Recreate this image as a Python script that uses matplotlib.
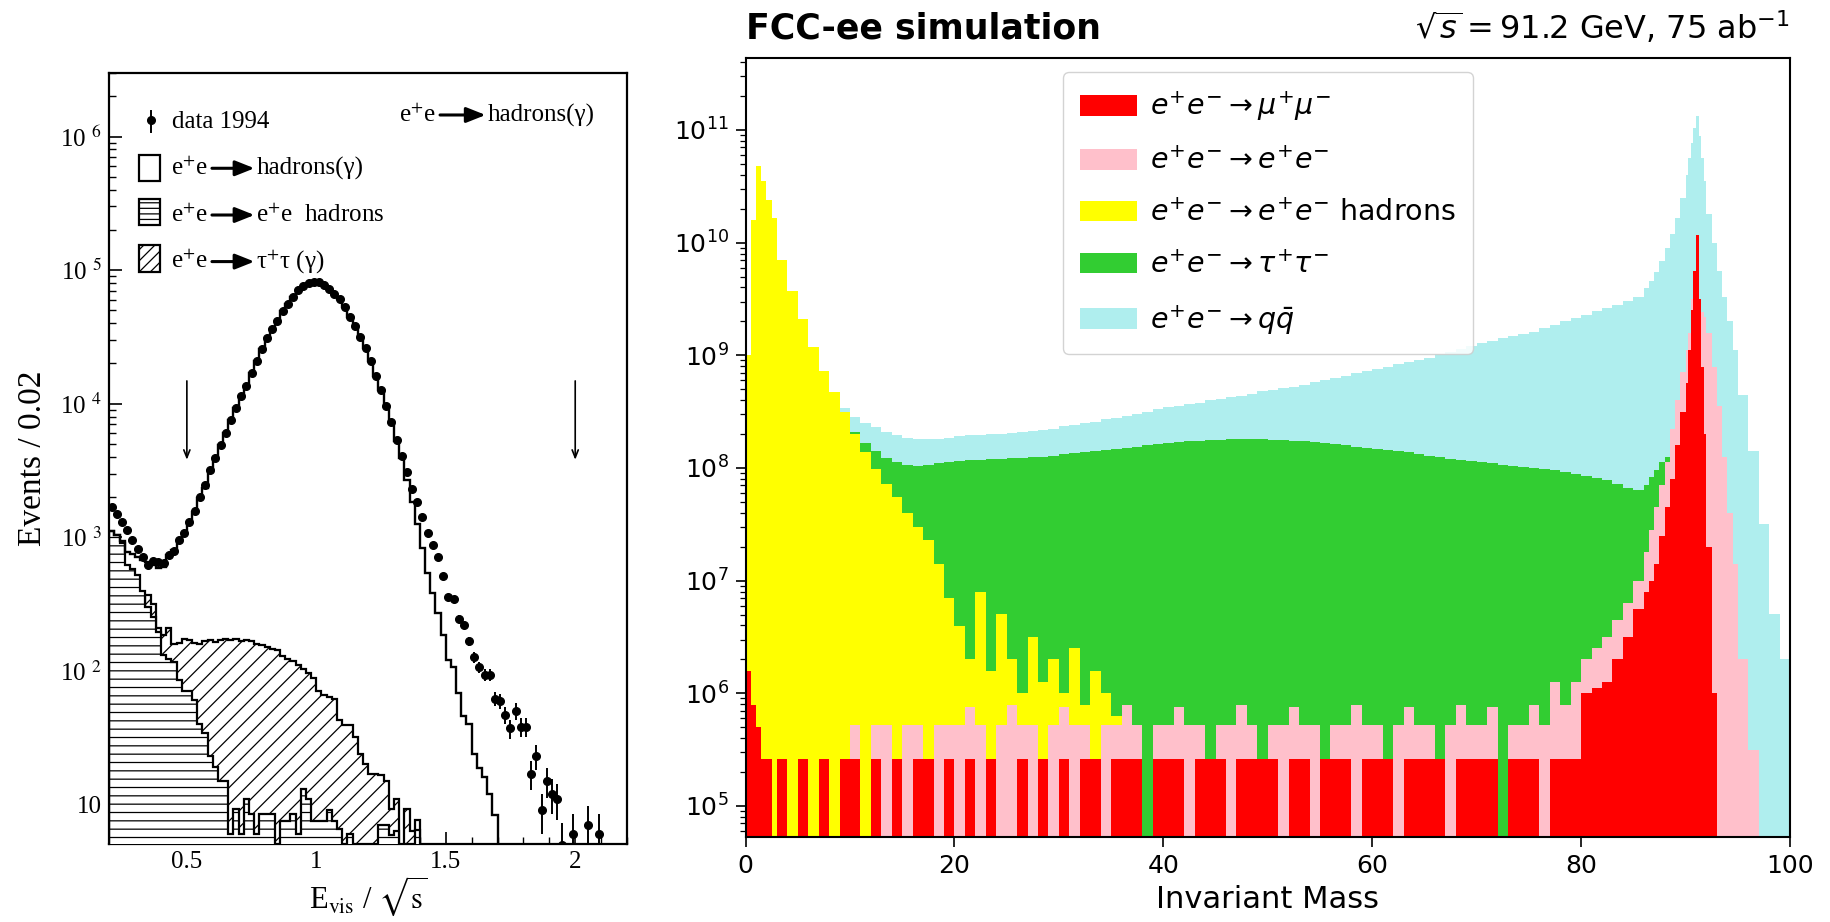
import numpy as np
import matplotlib
matplotlib.use("Agg")
import matplotlib.pyplot as plt
from matplotlib.patches import Rectangle, Patch
from matplotlib.ticker import MultipleLocator, LogLocator, NullFormatter

plt.rcParams["hatch.linewidth"] = 0.9
plt.rcParams["font.family"] = ["DejaVu Sans"]
SERIF = "Liberation Serif"

# ===================== LEFT PANEL DATA (bins of 0.02 in E_vis/sqrt(s)) =====================
MC_EDGES = np.round(np.linspace(0.20, 1.70, 76), 2)
BKG_EDGES = np.round(np.linspace(0.20, 1.40, 61), 2)
DATA_X = np.round(np.linspace(0.21, 2.09, 95), 2)

DATA_1994 = [
    1690, 1500, 1300, 1130, 950, 822, 713, 617, 661, 653,
    646, 733, 794, 955, 1070, 1300, 1585, 1995, 2455, 3160,
    3890, 4900, 6030, 7590, 9330, 11500, 13500, 17000, 20900, 25700,
    30900, 36300, 41700, 49000, 56200, 63100, 70800, 75900, 79400, 81300,
    81300, 77600, 72400, 66100, 60300, 52500, 44700, 38000, 31600, 26300,
    20900, 16200, 12600, 9550, 7240, 5370, 4070, 3090, 2290, 1820,
    1410, 1070, 871, 708, 513, 359, 343, 245, 219, 166,
    126, 107, 93, 93, 62, 59, 47, 37, 50, 38,
    38, 17, 23, 9, 15, 12, 11, 5, 0, 6,
    0, 0, 7, 0, 6]

MC_HADRONS = [
    1120, 1035, 930, 776, 746, 713, 681, 653, 617, 593,
    603, 733, 809, 922, 1072, 1303, 1549, 1950, 2344, 3100,
    3890, 4900, 6030, 7590, 9330, 11500, 13500, 17000, 20900, 25700,
    30900, 36300, 41700, 49000, 56200, 63100, 70800, 75900, 79400, 81300,
    81300, 77600, 72400, 66100, 60300, 52500, 44700, 38000, 31600, 26300,
    20900, 16200, 12600, 9550, 7240, 5250, 3890, 2690, 1820, 1260,
    830, 537, 380, 271, 186, 120, 107, 68, 46, 40,
    24, 18.6, 16, 12, 8.3]

MC_TAU = [
    0, 0, 0, 0, 0, 0, 0, 367, 316, 210,
    186, 210, 158, 162, 174, 170, 162, 160, 168, 170,
    165, 170, 172, 170, 172, 168, 170, 166, 160, 155,
    152, 146, 143, 130, 122, 118, 110, 104, 96, 88,
    70, 66, 64, 62, 43, 39, 39, 32, 24, 20,
    17, 17, 16.5, 15, 9.3, 11, 0, 9.3, 6.3, 7.7]

MC_TWOPHOTON = [
    1120, 1035, 900, 617, 582, 519, 398, 300, 251, 195,
    131, 123, 116, 85, 71, 71, 60, 40, 34, 23,
    19, 15, 15, 6, 9.3, 6, 11, 8.5, 6, 8.5,
    8.5, 8.5, 0, 7.5, 7.5, 8.5, 6, 13, 11, 7.5,
    7.5, 7.5, 9, 7.5, 6.5, 0, 6, 0, 0, 0,
    0, 0, 7, 7, 5.9, 6.3, 0, 0, 0, 6.4]

# ===================== RIGHT PANEL DATA (log10 of entries per bin) =====================
R_EDGES = np.concatenate([np.arange(0, 3, 0.5), np.arange(3, 86, 1.0), np.arange(86, 90, 0.5),
                          np.arange(90, 92, 0.25), np.arange(92, 95, 0.5), np.arange(95, 101, 1.0)])
N = None
R = 5.42

QQ_LOG = [
    8.5, 9.5, 9.5, 9.5, 9.5, 9.4,
    9.3, 9.2, 9.0, 8.9, 8.75, 8.6, 8.53, 8.45, 8.40, 8.36,
    8.32, 8.29, 8.27, 8.26, 8.26, 8.26, 8.27, 8.28, 8.29, 8.29,
    8.30, 8.30, 8.31, 8.32, 8.33, 8.34, 8.35, 8.37, 8.38, 8.40,
    8.41, 8.43, 8.44, 8.46, 8.48, 8.50, 8.52, 8.54, 8.55, 8.57,
    8.58, 8.60, 8.61, 8.63, 8.64, 8.66, 8.68, 8.69, 8.71, 8.72,
    8.74, 8.76, 8.78, 8.80, 8.82, 8.84, 8.86, 8.88, 8.90, 8.92,
    8.94, 8.96, 8.98, 9.01, 9.03, 9.06, 9.08, 9.11, 9.13, 9.15,
    9.17, 9.19, 9.21, 9.24, 9.27, 9.30, 9.33, 9.36, 9.39, 9.42,
    9.45, 9.48, 9.52,
    9.60, 9.66, 9.74, 9.84, 9.95, 10.08, 10.22, 10.40,
    10.60, 10.75, 10.88, 11.02, 11.12, 10.95, 10.75, 10.55,
    10.25, 10.0, 9.75, 9.52, 9.30, 9.05,
    8.65, 8.15, 7.5, 6.7, 6.3]

TAUTAU_LOG = [
    8.0, 8.9, 9.0, 9.0, 9.0, 9.0,
    9.0, 9.0, 8.95, 8.9, 8.75, 8.6, 8.45, 8.32, 8.22, 8.15,
    8.09, 8.05, 8.03, 8.02, 8.03, 8.04, 8.05, 8.06, 8.07, 8.07,
    8.08, 8.08, 8.09, 8.09, 8.10, 8.10, 8.11, 8.12, 8.13, 8.14,
    8.15, 8.16, 8.17, 8.18, 8.19, 8.20, 8.21, 8.22, 8.23, 8.24,
    8.24, 8.25, 8.25, 8.26, 8.26, 8.26, 8.26, 8.25, 8.25, 8.24,
    8.24, 8.23, 8.22, 8.21, 8.20, 8.19, 8.18, 8.17, 8.16, 8.15,
    8.14, 8.12, 8.11, 8.10, 8.08, 8.07, 8.06, 8.05, 8.04, 8.03,
    8.02, 8.01, 8.00, 7.99, 7.98, 7.96, 7.95, 7.93, 7.91, 7.89,
    7.86, 7.82, 7.80,
    7.85, 7.92, 7.98, 8.05, 8.10, 8.10, 8.05, 8.00,
    8.0, 8.0, 8.0, 8.0, 8.0, 8.0, 8.0, 8.0,
    7.5, 7.0, 6.5, N, N, N,
    N, N, N, N, N]

EEHAD_LOG = [
    9.0, 10.2, 10.68, 10.55, 10.38, 10.22,
    9.85, 9.57, 9.32, 9.07, 8.86, 8.67, 8.50, 8.30, 8.14, 7.99,
    7.86, 7.74, 7.60, 7.48, 7.36, 7.15, 6.85, 6.6, 6.3, 6.9,
    6.2, 6.7, 6.3, 6.0, 6.5, 6.1, 6.3, 6.0, 6.4, 5.9,
    6.2, 6.0, 5.8, N, N, N, N, N, N, N,
    N, N, N, N, N, N, N, N, N, N,
    N, N, N, N, N, N, N, N, N, N,
    N, N, N, N, N, N, N, N, N, N,
    N, N, N, N, N, N, N, N, N, N,
    N, N, N,
    N, N, N, N, N, N, N, N,
    N, N, N, N, N, N, N, N,
    N, N, N, N, N, N,
    N, N, N, N, N]

EE_LOG = [
    N, N, N, N, N, N,
    N, N, N, N, N, N, N, 5.72, N, 5.72,
    5.72, N, 5.72, 5.72, N, 5.72, 5.72, 5.72, 5.88, 5.72,
    N, 5.72, 5.9, 5.72, 5.72, N, 5.72, 5.88, 5.72, 5.72,
    N, 5.72, 5.72, 5.9, 5.72, N, 5.72, 5.72, 5.88, 5.72,
    5.72, N, 5.72, 5.72, 5.9, 5.72, N, 5.72, 5.72, 5.88,
    5.72, 5.72, N, 5.72, 5.72, 5.9, 5.72, 5.72, N, 5.72,
    5.88, 5.72, 5.72, N, 5.72, 5.9, 5.72, 5.72, 5.88, N,
    5.72, 5.72, 5.9, 5.72, 6.1, 5.9, 6.1, 6.3, 6.4, 6.5,
    6.65, 6.8, 7.0,
    7.25, 7.45, 7.65, 7.85, 8.05, 8.35, 8.6, 8.85,
    9.05, 9.2, 9.5, 9.75, 9.6, 9.42, 9.38, 9.34,
    9.2, 8.9, 8.55, 8.1, 7.6, 7.15,
    6.3, 5.5, N, N, N]

MUMU_LOG = [
    6.2, 5.9, 5.7, R, R, N,
    R, N, R, N, R, N, R, R, N, R,
    N, R, N, R, R, N, R, N, R, N,
    R, N, N, R, N, R, N, R, N, R,
    R, N, R, R, R, N, R, R, R, N,
    R, R, R, N, R, R, R, R, N, R,
    R, N, R, R, R, N, R, R, R, N,
    R, R, R, R, N, R, R, R, R, N,
    R, R, R, N, R, R, R, 6.0, 6.05, 6.1,
    6.3, 6.5, 6.75,
    6.9, 7.0, 7.15, 7.4, 7.65, 7.9, 8.2, 8.5,
    8.75, 9.05, 9.4, 9.75, 10.07, 9.5, 8.9, 8.3,
    7.3, 6.0, N, N, N, N,
    N, N, N, N, N]

R_SERIES = [
    (QQ_LOG, "#afeeee", r"$e^{+}e^{-} \rightarrow q\bar{q}$"),
    (TAUTAU_LOG, "#32cd32", r"$e^{+}e^{-} \rightarrow \tau^{+}\tau^{-}$"),
    (EEHAD_LOG, "#ffff00", r"$e^{+}e^{-} \rightarrow e^{+}e^{-}$ hadrons"),
    (EE_LOG, "#ffc0cb", r"$e^{+}e^{-} \rightarrow e^{+}e^{-}$"),
    (MUMU_LOG, "#ff0000", r"$e^{+}e^{-} \rightarrow \mu^{+}\mu^{-}$"),
]
R_YTICKS = [1e5, 1e6, 1e7, 1e8, 1e9, 1e10, 1e11]

# ===================== FIGURE =====================
fig = plt.figure(figsize=(18.3, 9.22), dpi=100)
ax1 = fig.add_axes([0.05967, 0.0846, 0.28295, 0.83644])
ax2 = fig.add_axes([0.40738, 0.09219, 0.57077, 0.84490])
RND = fig.canvas.get_renderer()

# ---------- left panel ----------
ax1.set_yscale("log")
ax1.set_xlim(0.2, 2.2)
ax1.set_ylim(5.05, 3.0e6)

tau = np.maximum(np.array(MC_TAU, float), 1.0)
twog = np.maximum(np.array(MC_TWOPHOTON, float), 1.0)
ax1.stairs(tau, BKG_EDGES, baseline=1.0, fill=True, facecolor="white",
           edgecolor="black", hatch="//", lw=1.6, zorder=2)
ax1.stairs(twog, BKG_EDGES, baseline=1.0, fill=True, facecolor="white",
           edgecolor="black", hatch="--", lw=1.6, zorder=3)
ax1.stairs(np.array(MC_HADRONS, float), MC_EDGES, baseline=1.0, fill=False,
           color="black", lw=1.7, zorder=4)

d = np.array(DATA_1994, float)
m = d > 0
ax1.errorbar(DATA_X[m], d[m], yerr=np.sqrt(d[m]), fmt="o", ms=5.5, color="black",
             ecolor="black", elinewidth=1.4, capsize=0, zorder=6)

for xa in (0.5, 2.0):
    ax1.annotate("", xy=(xa, 3800), xytext=(xa, 14800),
                 arrowprops=dict(arrowstyle="->,head_length=0.55,head_width=0.22",
                                 lw=1.2, color="black", shrinkA=0, shrinkB=0))

ax1.set_xticks([0.5, 1.0, 1.5, 2.0])
ax1.set_xticklabels(["0.5", "1", "1.5", "2"], fontsize=18, family=SERIF)
ax1.xaxis.set_minor_locator(MultipleLocator(0.1))
yt = [1e1, 1e2, 1e3, 1e4, 1e5, 1e6]
ax1.set_yticks(yt)
ax1.set_yticklabels(["10"] + ["10 $^{%d}$" % k for k in range(2, 7)],
                    fontsize=18, family=SERIF, math_fontfamily="stix")
ax1.yaxis.set_minor_locator(LogLocator(base=10, subs=np.arange(2, 10)))
ax1.yaxis.set_minor_formatter(NullFormatter())
ax1.tick_params(which="major", direction="in", length=9, width=1.2, pad=5)
ax1.tick_params(which="minor", direction="in", length=5, width=1.0)
for sp in ax1.spines.values():
    sp.set_linewidth(1.6)

ax1.set_ylabel("Events / 0.02", fontsize=24, family=SERIF)
ax1.yaxis.set_label_coords(-0.118, 0.5)
ax1.set_xlabel(r"E$_{\rm vis}$ / $\sqrt{\rm s}$", fontsize=22, family=SERIF,
               math_fontfamily="stix")
ax1.xaxis.set_label_coords(0.5, -0.039)


def reaction(ax, x, base, product, alen=0.082):
    kw = dict(transform=ax.transAxes, fontsize=18, family=SERIF,
              math_fontfamily="stix", va="baseline", ha="left")
    t = ax.text(x, base, "e$^{+}$e", **kw)
    bb = t.get_window_extent(renderer=RND)
    x1 = ax.transAxes.inverted().transform((bb.x1, bb.y0))[0]
    a0 = x1 + 0.008
    a1 = a0 + alen
    ay = base + 0.0087
    ax.annotate("", xy=(a1, ay), xytext=(a0, ay), xycoords="axes fraction",
                textcoords="axes fraction",
                arrowprops=dict(arrowstyle="-|>,head_length=0.83,head_width=0.33",
                                lw=2.2, color="black", shrinkA=0, shrinkB=0,
                                mutation_scale=14))
    ax.text(a1 + 0.004, base, product, **kw)


# legend-like annotations
ax1.plot([0.0815], [0.9388], "o", ms=5.5, color="black", transform=ax1.transAxes)
ax1.plot([0.0815, 0.0815], [0.9226, 0.9507], "-", lw=1.4, color="black",
         transform=ax1.transAxes)
ax1.text(0.1207, 0.9280, "data 1994", transform=ax1.transAxes, fontsize=18,
         family=SERIF, va="baseline", ha="left")
for yb, hatch in ((0.860, None), (0.8026, "---"), (0.7421, "///")):
    ax1.add_patch(Rectangle((0.0576, yb), 0.0406, 0.034, transform=ax1.transAxes,
                            facecolor="white", edgecolor="black", lw=1.6, hatch=hatch))
reaction(ax1, 0.1192, 0.8675, "hadrons(γ)")
reaction(ax1, 0.1192, 0.8069, "e$^{+}$e  hadrons")
reaction(ax1, 0.1192, 0.7465, "τ$^{+}$τ (γ)")
reaction(ax1, 0.5597, 0.9366, "hadrons(γ)", alen=0.088)

# ---------- right panel ----------
ax2.set_yscale("log")
for z, (logv, col, lab) in enumerate(R_SERIES):
    v = np.power(10.0, np.array(logv, dtype=float))
    v = np.nan_to_num(v, nan=1.0)
    ax2.stairs(v, R_EDGES, baseline=1.0, fill=True, facecolor=col,
               edgecolor="none", lw=0, zorder=1 + z)
ax2.set_xlim(0, 100)
ax2.set_yticks(R_YTICKS)
ax2.yaxis.set_minor_locator(LogLocator(base=10, subs=np.arange(2, 10)))
ax2.yaxis.set_minor_formatter(NullFormatter())
ax2.set_ylim(5.3e4, 4.35e11)
ax2.set_xlabel("Invariant Mass", fontsize=22, labelpad=5)
ax2.tick_params(which="major", labelsize=18, length=7, width=1.2, pad=5)
ax2.tick_params(which="minor", length=4, width=0.9)
for sp in ax2.spines.values():
    sp.set_linewidth(1.5)
    sp.set_zorder(10)

ax2.set_title("FCC-ee simulation", loc="left", fontsize=25, fontweight="bold", pad=14)
ax2.set_title(r"$\sqrt{s} = 91.2$ GeV, 75 ab$^{-1}$", loc="right", fontsize=23, pad=14)

handles = [Patch(facecolor=col, edgecolor="none", label=lab)
           for (_, col, lab) in R_SERIES[::-1]]
leg = ax2.legend(handles=handles, loc="upper center", fontsize=20.5, labelspacing=0.84,
                 handletextpad=0.45, borderpad=0.6, handlelength=2.0, handleheight=0.75,
                 fancybox=True, framealpha=0.85, edgecolor="#cccccc")
leg.set_zorder(20)

fig.savefig("out.png", dpi=100)
